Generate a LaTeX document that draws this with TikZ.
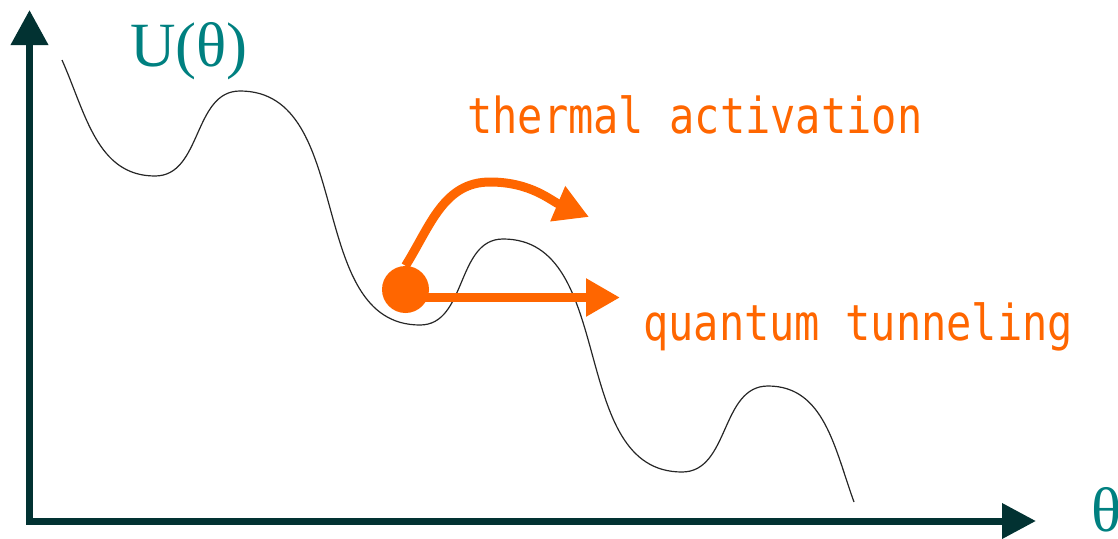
\documentclass[tikz,border=0pt]{standalone}
\usepackage{fontspec}
\setmainfont{Liberation Serif}
\newfontfamily\labelfont{DejaVu Sans Mono}
\usetikzlibrary{arrows.meta}
\definecolor{axiscol}{HTML}{023232}
\definecolor{tealtxt}{HTML}{008080}
\definecolor{orng}{HTML}{FF6600}
\tikzset{
  axisline/.style={draw=axiscol, line width=7pt, line join=miter,
    {Triangle[length=35pt,width=36pt]}-{Triangle[length=34pt,width=34pt]}},
  potential/.style={draw=black!85, line width=1.2pt},
  orangearrow/.style={draw=orng, line width=9pt, -{Triangle[length=34pt,width=36pt]}},
  axlabel/.style={text=tealtxt, font=\fontsize{63}{63}\selectfont, inner sep=0pt, anchor=base west},
  proclabel/.style={text=orng, font=\labelfont\fontsize{42}{42}\selectfont, inner sep=0pt, anchor=base west},
}
\begin{document}
\begin{tikzpicture}[x=1pt,y=1pt]
\useasboundingbox (0,0) rectangle (1118,-538);
% axes
\coordinate (ytip) at (29.5,-10);
\coordinate (orig) at (29.5,-521);
\coordinate (xtip) at (1036,-521);
\draw[axisline] (ytip) -- (orig) -- (xtip);
% labels
\node[axlabel] (ulab) at (130,-66) {U(θ)};
\node[axlabel] (thlab) at (1091,-531) {θ};
% potential curve
\draw[potential] (62,-60) to[out=-66,in=180] (155,-176)
  to[out=0,in=180] (240,-91)
  to[out=0,in=180] (420,-325)
  to[out=0,in=180] (503,-239)
  to[out=0,in=180] (682,-472)
  to[out=0,in=180] (768,-386)
  to[out=0,in=110] (854,-502);
% ball
\node[circle, fill=orng, minimum size=47pt, inner sep=0pt] (ball) at (405.5,-289.5) {};
\coordinate (tuntip) at (620,-297.5);
\coordinate (tunstart) at (ball.center |- tuntip);
\coordinate (acttip) at (589,-217);
\coordinate (actpeak) at (490,-182);
\draw[orangearrow] (tunstart) -- (tuntip);
\draw[orangearrow] (ball.north) to[out=58,in=180] (actpeak) to[out=0,in=157] (acttip);
% process labels
\node[proclabel] (thermal) at (467,-133) {\scalebox{1}[1.18]{thermal activation}};
\node[proclabel] (quantum) at (643,-340) {\scalebox{1}[1.18]{quantum tunneling}};
\end{tikzpicture}
\end{document}
